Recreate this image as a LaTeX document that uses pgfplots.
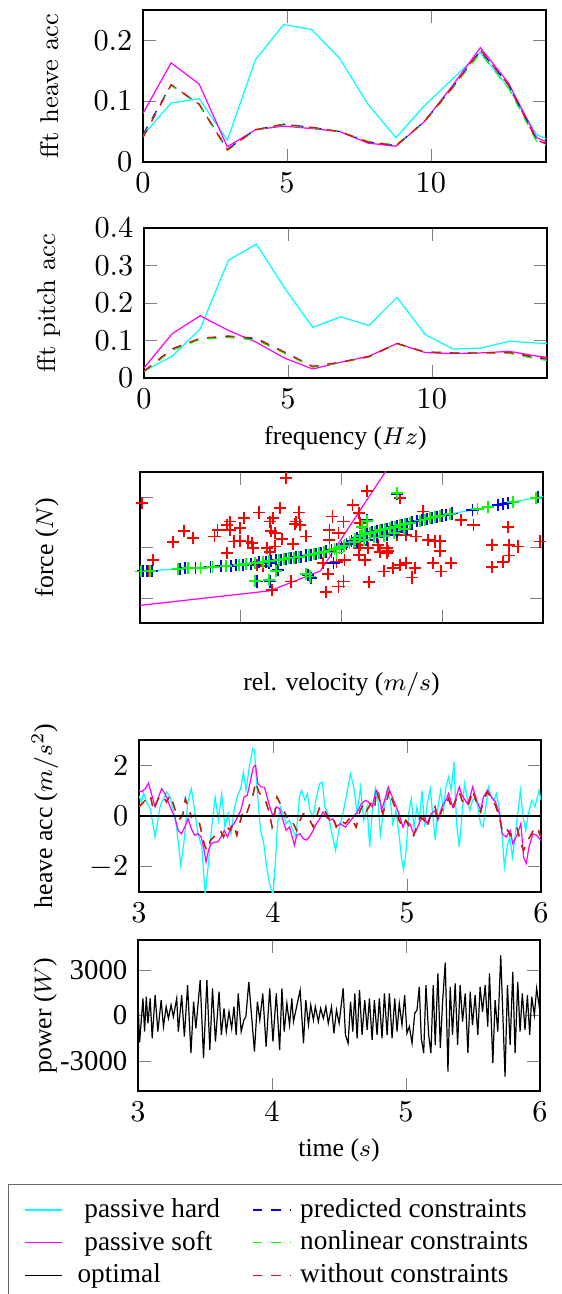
\documentclass[border=0pt]{standalone}
\usepackage{fontspec}
\newfontfamily\tnr{Liberation Serif}
\usepackage{pgfplots}
\pgfplotsset{compat=1.18}
\usepackage{pgfplotstable}

\definecolor{hardc}{rgb}{0,1,1}
\definecolor{softc}{rgb}{1,0,1}
\definecolor{nonlc}{rgb}{0,1,0}
\definecolor{predc}{rgb}{0,0,1}
\definecolor{woc}{rgb}{1,0,0}

% spectra, x = frequency (Hz)
\pgfplotstableread{
f      hard  soft  pred  nonl  wo
0.000  0.044 0.080 0.045 0.042 0.040
0.977  0.097 0.163 0.127 0.126 0.127
1.953  0.104 0.128 0.095 0.094 0.095
2.930  0.036 0.025 0.021 0.019 0.020
3.906  0.168 0.053 0.053 0.053 0.053
4.883  0.226 0.059 0.062 0.061 0.062
5.859  0.218 0.055 0.057 0.056 0.057
6.836  0.170 0.050 0.050 0.050 0.050
7.813  0.095 0.031 0.033 0.034 0.033
8.789  0.040 0.026 0.027 0.028 0.027
9.766  0.092 0.066 0.066 0.065 0.066
10.742 0.136 0.125 0.122 0.121 0.122
11.719 0.180 0.188 0.183 0.179 0.184
12.695 0.122 0.130 0.127 0.122 0.127
13.672 0.045 0.040 0.036 0.034 0.036
14.648 0.025 0.020 0.018 0.016 0.018
}\fftheave

\pgfplotstableread{
f      hard  soft  pred  nonl  wo
0.000  0.018 0.027 0.018 0.017 0.018
0.977  0.058 0.118 0.077 0.074 0.078
1.953  0.131 0.166 0.105 0.103 0.106
2.930  0.314 0.127 0.111 0.108 0.112
3.906  0.357 0.095 0.104 0.101 0.106
4.883  0.240 0.053 0.068 0.066 0.069
5.859  0.135 0.024 0.030 0.029 0.031
6.836  0.163 0.042 0.042 0.041 0.042
7.813  0.140 0.058 0.057 0.056 0.057
8.789  0.215 0.092 0.092 0.091 0.092
9.766  0.116 0.068 0.069 0.069 0.069
10.742 0.077 0.065 0.067 0.068 0.067
11.719 0.080 0.067 0.067 0.068 0.067
12.695 0.098 0.071 0.067 0.066 0.068
13.672 0.093 0.058 0.053 0.050 0.055
14.648 0.092 0.050 0.045 0.042 0.047
}\fftpitch

% damper force vs relative velocity (no units shown on the axes)
\pgfplotstableread{
v y
-2 -0.95
-1 -0.69
-0.5 -0.42
-0.25 -0.26
0 0
0.2 0.5
0.7 1.0
1.04 1.3
2 2.03
}\hardline

\pgfplotstableread{
v y
-2 -2.3
-0.71 -1.72
-0.21 -0.93
0.5 3.4
}\softline

\pgfplotstableread{
v y
-1.98 1.76
-1.87 -0.49
-1.92 -0.93
-1.67 0.21
-1.56 0.64
-1.47 0.37
-1.26 0.44
-1.23 0.70
-1.14 -0.23
-1.14 0.90
-1.11 1.03
-1.01 0.77
-0.97 1.17
-1.07 0.24
-1.01 0.26
-0.89 0.17
-0.88 -0.03
-0.82 1.39
-0.71 1.03
-0.68 1.17
-0.70 0.64
-0.66 0.57
-0.61 1.56
-0.59 0.34
-0.74 -0.03
-0.71 -0.19
-0.66 0.04
-0.55 2.75
-0.48 0.13
-0.46 0.93
-0.45 1.03
-0.41 0.90
-0.42 1.39
-0.35 0.44
-0.84 -0.69
-0.78 -0.75
-0.69 -1.68
-0.50 -1.35
-0.15 -1.77
-0.03 -1.55
0.02 -1.35
-0.13 -1.06
-0.18 -0.62
-0.12 0.70
-0.09 1.23
-0.12 0.30
-0.03 0.57
0.02 1.03
-0.10 -0.16
-0.05 -0.56
0.03 -0.49
0.11 1.70
0.17 1.36
0.18 0.97
0.25 2.25
0.17 -0.29
0.23 -0.49
0.26 -0.03
0.36 0.11
0.42 -0.95
0.27 -1.38
0.45 -0.03
0.46 -0.13
0.51 -0.82
0.58 -0.69
0.64 -0.62
0.70 -1.19
0.73 -0.82
0.58 1.96
0.55 0.50
0.64 0.50
0.74 0.44
0.81 1.43
0.86 0.30
0.91 -0.62
0.93 0.24
0.98 -0.13
0.99 -0.95
1.09 -0.62
0.98 0.26
1.19 1.10
1.31 0.90
1.49 0.11
1.65 0.83
1.66 0.11
1.75 0.04
1.66 -0.32
1.60 -0.56
1.49 -0.79
1.97 0.24
0.38 -0.19
0.45 -0.23
0.17 -0.03
0.18 0.11
-0.45 -0.42
-0.93 0.24
-1.11 0.70
}\redpts

\pgfplotstableread{
v y
-1.97 -0.94
-1.93 -0.93
-1.88 -0.92
-1.60 -0.85
-1.55 -0.83
-1.45 -0.81
-1.30 -0.77
-1.20 -0.74
-1.10 -0.72
-1.05 -0.70
-0.98 -0.68
-0.90 -0.64
-0.82 -0.59
-0.75 -0.56
-0.70 -0.53
-0.65 -0.50
-0.60 -0.48
-0.55 -0.45
-0.50 -0.42
-0.45 -0.39
-0.40 -0.36
-0.35 -0.32
-0.30 -0.29
-0.25 -0.26
-0.20 -0.21
-0.15 -0.16
-0.10 -0.10
-0.05 -0.05
0.00 0.00
0.05 0.13
0.10 0.25
0.15 0.38
0.20 0.50
0.25 0.55
0.30 0.60
0.35 0.65
0.40 0.70
0.45 0.75
0.50 0.80
0.55 0.85
0.60 0.90
0.65 0.95
0.70 1.00
0.75 1.04
0.80 1.09
0.85 1.13
0.90 1.18
0.95 1.22
1.00 1.27
1.04 1.30
1.10 1.35
1.30 1.50
1.55 1.69
1.60 1.72
1.65 1.76
1.95 1.99
0.15 0.24
0.25 0.30
0.35 0.42
0.45 0.50
0.55 0.62
0.65 0.75
-0.84 -1.35
-0.71 -1.35
-0.30 -1.22
-0.33 -1.09
-0.63 -0.89
0.55 2.12
0.25 1.10
-0.72 -0.62
-0.08 -0.60
}\bluepts

\pgfplotstableread{
v y
-1.99 -0.95
-1.90 -0.92
-1.62 -0.86
-1.52 -0.83
-1.40 -0.80
-1.28 -0.76
-1.15 -0.73
-1.02 -0.69
-0.95 -0.66
-0.86 -0.61
-0.78 -0.57
-0.72 -0.54
-0.62 -0.49
-0.57 -0.46
-0.52 -0.43
-0.47 -0.40
-0.42 -0.37
-0.32 -0.30
-0.27 -0.27
-0.22 -0.23
-0.17 -0.18
-0.12 -0.12
-0.07 -0.07
-0.02 -0.02
0.03 0.08
0.08 0.20
0.13 0.33
0.18 0.46
0.23 0.53
0.28 0.58
0.33 0.63
0.38 0.68
0.43 0.73
0.48 0.78
0.53 0.83
0.58 0.88
0.63 0.93
0.68 0.98
0.78 1.07
0.83 1.11
0.88 1.16
0.93 1.20
0.98 1.25
1.08 1.33
1.35 1.52
1.45 1.60
1.70 1.80
1.93 1.97
0.12 0.22
0.22 0.30
0.32 0.40
0.42 0.47
0.52 0.58
0.62 0.72
0.20 0.82
0.25 1.05
0.55 2.15
-0.86 -1.33
-0.72 -1.30
-0.31 -1.15
-0.35 -1.05
-0.65 -0.92
-0.05 -0.20
0.02 0.05
}\greenpts

% heave acceleration, t in s
\pgfplotstableread{
t a
3.000 0.80
3.017 0.55
3.034 0.90
3.059 0.50
3.084 0.30
3.120 -0.83
3.157 0.36
3.182 0.68
3.206 0.95
3.231 0.75
3.256 0.22
3.280 -0.43
3.312 -1.95
3.337 -0.96
3.366 0.62
3.391 1.08
3.415 0.22
3.440 -0.70
3.469 -1.22
3.494 -3.10
3.518 -1.88
3.543 -0.43
3.568 0.75
3.592 -0.17
3.617 0.88
3.641 -0.43
3.666 0.09
3.686 -0.70
3.710 0.22
3.735 0.82
3.759 1.08
3.779 1.74
3.799 1.01
3.823 1.93
3.848 2.66
3.862 2.59
3.882 1.01
3.907 -0.57
3.931 -1.09
3.956 -2.14
3.980 -2.80
4.000 -3.10
4.017 -1.88
4.034 -0.30
4.054 0.36
4.074 0.09
4.098 -0.30
4.123 -0.17
4.147 -0.57
4.172 -0.83
4.197 0.75
4.214 1.01
4.238 0.62
4.256 0.88
4.275 0.22
4.300 -0.04
4.324 0.75
4.349 1.28
4.369 1.34
4.386 0.36
4.410 0.09
4.435 -0.57
4.467 -1.36
4.491 -0.57
4.516 -0.04
4.541 0.62
4.578 1.67
4.603 1.14
4.628 0.09
4.653 1.14
4.677 -0.17
4.702 0.36
4.722 -1.22
4.739 0.09
4.764 1.08
4.784 0.55
4.801 -0.76
4.826 0.22
4.851 1.01
4.876 0.62
4.893 -0.30
4.918 0.22
4.943 -0.83
4.958 -1.62
4.975 -2.14
4.993 -1.36
5.012 0.09
5.032 0.68
5.052 -0.43
5.074 0.36
5.092 -0.17
5.112 1.01
5.132 -0.43
5.151 0.49
5.174 1.08
5.191 0.09
5.211 -0.96
5.231 0.36
5.251 1.01
5.273 0.22
5.290 1.14
5.310 1.54
5.330 1.01
5.350 2.13
5.370 -0.30
5.390 -1.22
5.409 -0.04
5.429 1.28
5.449 0.75
5.469 0.22
5.489 0.62
5.509 0.75
5.529 0.36
5.548 -0.30
5.568 -0.43
5.588 0.36
5.608 1.14
5.628 0.75
5.648 0.62
5.667 0.88
5.687 0.36
5.707 -0.57
5.727 -2.01
5.747 -1.22
5.767 -0.83
5.787 -1.62
5.806 -0.83
5.826 0.09
5.846 1.01
5.866 -0.04
5.886 -0.57
5.906 0.09
5.931 0.62
5.955 0.36
5.985 1.01
6.000 0.62
}\hardacc

\pgfplotstableread{
t a
3.000 1.01
3.020 0.95
3.047 1.08
3.071 1.30
3.096 0.82
3.120 0.36
3.145 0.75
3.170 1.08
3.194 0.88
3.219 0.55
3.243 0.22
3.268 -0.04
3.292 -0.57
3.317 -0.70
3.342 -0.43
3.366 -0.11
3.391 -0.50
3.415 -0.76
3.440 -0.70
3.464 -0.83
3.484 -1.29
3.501 -1.82
3.518 -1.36
3.538 -1.09
3.563 -1.03
3.587 -1.03
3.612 -0.83
3.636 -0.57
3.661 -0.83
3.686 -0.43
3.710 -0.30
3.735 -0.04
3.759 0.22
3.784 0.75
3.808 0.82
3.833 1.41
3.853 1.93
3.870 2.00
3.887 1.28
3.912 1.14
3.936 1.14
3.956 0.75
3.980 0.29
4.000 -0.01
4.025 0.36
4.049 0.29
4.074 -0.17
4.098 -0.57
4.123 -0.43
4.160 -1.15
4.177 -0.76
4.201 -0.70
4.226 -0.90
4.251 -0.95
4.275 -0.80
4.300 -0.57
4.324 -0.30
4.349 -0.11
4.373 0.16
4.398 -0.04
4.423 -0.17
4.447 -0.11
4.472 -0.43
4.500 -0.30
4.540 -0.44
4.580 -0.17
4.630 0.16
4.660 0.49
4.690 0.62
4.710 0.56
4.740 0.36
4.770 1.02
4.790 0.89
4.810 0.22
4.840 0.75
4.860 1.15
4.890 0.75
4.910 0.49
4.940 0.09
4.970 -0.44
4.990 -0.17
5.020 -0.30
5.050 -0.70
5.070 -0.57
5.100 -0.17
5.130 -0.04
5.150 -0.30
5.180 0.09
5.210 0.22
5.230 -0.17
5.260 0.36
5.290 0.62
5.310 0.89
5.340 0.36
5.360 0.62
5.390 1.15
5.410 0.82
5.450 0.49
5.470 0.75
5.490 1.15
5.520 0.62
5.550 0.22
5.570 0.75
5.600 1.02
5.630 0.75
5.660 0.56
5.690 0.09
5.710 -0.70
5.740 -0.83
5.770 -0.57
5.790 -1.10
5.820 -0.77
5.850 -0.30
5.870 -1.63
5.890 -1.87
5.910 -1.23
5.940 -0.70
5.970 -0.77
6.000 -0.97
}\softacc

\pgfplotstableread{
t a
3.000 0.36
3.034 0.55
3.084 0.82
3.108 0.22
3.133 0.55
3.157 0.82
3.182 0.75
3.206 0.55
3.231 0.82
3.256 0.49
3.280 0.03
3.305 -0.11
3.329 0.09
3.346 0.68
3.366 0.36
3.391 -0.04
3.415 0.03
3.440 -0.04
3.464 -0.57
3.489 -1.16
3.509 -1.36
3.533 -0.96
3.558 -0.83
3.582 -0.70
3.607 -0.57
3.631 -0.83
3.656 -0.43
3.681 -0.57
3.705 -0.30
3.730 -0.76
3.754 -0.24
3.779 0.22
3.803 0.09
3.828 0.49
3.853 0.88
3.870 1.34
3.894 0.95
3.919 0.75
3.943 0.62
3.968 0.22
3.993 -0.43
4.010 -0.01
4.030 0.75
4.054 0.49
4.079 0.22
4.103 -0.04
4.128 0.03
4.152 -0.30
4.177 -0.57
4.201 -0.17
4.226 0.09
4.251 0.03
4.275 -0.17
4.300 -0.43
4.324 -0.04
4.349 0.36
4.373 0.38
4.398 0.09
4.423 -0.17
4.447 -0.04
4.472 -0.43
4.500 -0.17
4.540 -0.30
4.580 -0.04
4.620 -0.44
4.650 0.22
4.680 0.49
4.700 0.22
4.730 0.49
4.760 0.29
4.770 1.02
4.800 0.56
4.820 0.09
4.850 0.62
4.870 1.02
4.890 0.62
4.910 0.36
4.940 -0.17
4.970 -0.44
4.990 -0.17
5.020 -0.44
5.050 -0.77
5.070 -0.44
5.100 -0.04
5.130 -0.17
5.150 -0.44
5.180 0.09
5.210 0.36
5.230 -0.17
5.260 0.22
5.290 0.49
5.310 0.69
5.340 0.22
5.360 0.56
5.390 0.95
5.410 0.62
5.450 0.36
5.470 0.62
5.490 1.02
5.520 0.49
5.550 0.16
5.570 0.62
5.600 0.95
5.630 0.69
5.660 0.42
5.690 -0.04
5.710 -0.57
5.740 -0.44
5.770 -0.77
5.790 -0.57
5.820 -0.44
5.850 -1.10
5.870 -1.36
5.900 -0.97
5.930 -0.70
5.950 -0.44
5.980 -0.57
6.000 -0.83
}\ctrlacc

% power of the optimal damper, W
\pgfplotstableread{
t p
3.000 912
3.012 -1780
3.037 1132
3.049 -1066
3.062 1242
3.074 -517
3.091 1132
3.106 -1506
3.128 1352
3.148 -1066
3.173 1022
3.190 -736
3.210 582
3.227 -187
3.247 692
3.264 -77
3.289 1132
3.301 -1066
3.326 1352
3.346 -1396
3.370 2011
3.395 -2495
3.415 912
3.432 -846
3.464 2341
3.489 -2824
3.514 2341
3.536 -2275
3.556 1791
3.578 -1725
3.605 1572
3.622 -1286
3.642 473
3.659 -1066
3.679 253
3.699 -846
3.716 582
3.733 -1286
3.748 1462
3.770 -1066
3.790 -297
3.805 -77
3.827 2231
3.869 -2385
3.891 912
3.909 -297
3.931 1462
3.956 -2055
3.983 1791
4.007 -1725
4.032 1462
4.057 -2275
4.074 1791
4.091 -1066
4.111 802
4.131 -626
4.148 1132
4.160 -407
4.210 1681
4.235 -1835
4.252 1022
4.272 -626
4.289 692
4.309 -297
4.323 582
4.346 -407
4.363 473
4.383 -187
4.402 582
4.420 -517
4.444 582
4.462 -1176
4.481 363
4.501 -517
4.531 1791
4.548 -1286
4.568 -1835
4.586 912
4.603 -1066
4.618 1462
4.635 -1506
4.653 1681
4.672 -1286
4.692 1022
4.710 -956
4.727 1132
4.747 -1616
4.764 1022
4.784 -1286
4.801 1132
4.821 -1506
4.839 1462
4.859 -1286
4.876 1462
4.896 -1506
4.916 1132
4.933 -1066
4.950 802
4.970 -626
4.990 1352
5.007 -1176
5.025 -736
5.045 -1835
5.065 143
5.082 363
5.099 1901
5.114 -1506
5.132 -2495
5.149 2011
5.169 -1286
5.186 -2495
5.203 2011
5.218 -1945
5.238 2781
5.256 -2165
5.273 912
5.293 3506
5.313 -3714
5.330 1901
5.347 -1286
5.367 2121
5.385 -1945
5.404 2011
5.422 -407
5.442 1462
5.462 -2495
5.479 1572
5.496 -626
5.516 1352
5.536 -1286
5.553 1901
5.571 253
5.591 2011
5.610 -736
5.623 2781
5.648 -3154
5.665 1022
5.685 -1066
5.707 3989
5.739 -4044
5.757 2011
5.777 -1945
5.797 2891
5.814 -2495
5.834 2231
5.851 -1066
5.868 1462
5.888 -956
5.906 1352
5.923 -1286
5.938 1242
5.958 33
5.975 1791
6.000 253
}\power

\begin{document}
\begin{tikzpicture}
\pgfplotsset{
  every axis/.append style={
    scale only axis, anchor=north west,
    tick label style={font=\fontsize{10}{12}\selectfont},
    label style={font=\tnr\fontsize{8.5}{10}\selectfont},
    xlabel style={anchor=center},
    ylabel style={anchor=center},
  },
  cross/.style={only marks, mark=+, mark size=2pt, mark options={line width=0.6pt}},
}

% fft of heave acceleration
\begin{axis}[at={(47.19pt,-3.3pt)}, width=132.99pt, height=50.16pt,
  xmin=0, xmax=14, ymin=0, ymax=0.25,
  xtick={0,5,10}, ytick={0,0.1,0.2},
  ylabel={\normalfont fft heave acc},
  ylabel style={at={(axis description cs:-0.231,0.5)}}]
\addplot[hardc] table[x=f, y=hard] {\fftheave};
\addplot[softc] table[x=f, y=soft] {\fftheave};
\addplot[predc, dashed] table[x=f, y=pred] {\fftheave};
\addplot[nonlc, dashed] table[x=f, y=nonl] {\fftheave};
\addplot[woc, dashed] table[x=f, y=wo] {\fftheave};
\end{axis}

% fft of pitch acceleration
\begin{axis}[at={(47.52pt,-75.24pt)}, width=132.99pt, height=49.5pt,
  xmin=0, xmax=14, ymin=0, ymax=0.4,
  xtick={0,5,10}, ytick={0,0.1,0.2,0.3,0.4},
  ylabel={\normalfont fft pitch acc},
  ylabel style={at={(axis description cs:-0.237,0.5)}},
  xlabel={frequency ($Hz$)},
  xlabel style={at={(axis description cs:0.5,-0.40)}}]
\addplot[hardc] table[x=f, y=hard] {\fftpitch};
\addplot[softc] table[x=f, y=soft] {\fftpitch};
\addplot[predc, dashed] table[x=f, y=pred] {\fftpitch};
\addplot[nonlc, dashed] table[x=f, y=nonl] {\fftpitch};
\addplot[woc, dashed] table[x=f, y=wo] {\fftpitch};
\end{axis}

% force vs relative velocity
\begin{axis}[at={(46.2pt,-155.76pt)}, width=132.99pt, height=49.83pt,
  xmin=-2, xmax=2, ymin=-3, ymax=3,
  xtick={-1,0,1}, ytick={-2,0,2},
  xticklabels={}, yticklabels={},
  ylabel={force ($N$)},
  ylabel style={at={(axis description cs:-0.231,0.5)}},
  xlabel={rel. velocity ($m/s$)},
  xlabel style={at={(axis description cs:0.5,-0.41)}}]
\addplot[hardc] table[x=v, y=y] {\hardline};
\addplot[softc] table[x=v, y=y] {\softline};
\addplot[woc, cross] table[x=v, y=y] {\redpts};
\addplot[predc, cross] table[x=v, y=y] {\bluepts};
\addplot[nonlc, cross] table[x=v, y=y] {\greenpts};
\end{axis}

% heave acceleration in time
\begin{axis}[at={(45.87pt,-244.2pt)}, width=132.66pt, height=50.16pt,
  xmin=3, xmax=6, ymin=-3, ymax=3,
  xtick={3,4,5,6}, ytick={-2,0,2},
  ylabel={heave acc ($m/s^2$)},
  ylabel style={at={(axis description cs:-0.234,0.5)}}]
\addplot[hardc] table[x=t, y=a] {\hardacc};
\addplot[softc] table[x=t, y=a] {\softacc};
\addplot[predc, dashed] table[x=t, y=a] {\ctrlacc};
\addplot[nonlc, dashed] table[x=t, y=a] {\ctrlacc};
\addplot[woc, dashed] table[x=t, y=a] {\ctrlacc};
\addplot[black] coordinates {(3,0) (6,0)};
\end{axis}

% power
\begin{axis}[at={(45.54pt,-310.2pt)}, width=132.66pt, height=49.83pt,
  xmin=3, xmax=6, ymin=-5000, ymax=5000,
  xtick={3,4,5,6}, ytick={-3000,0,3000},
  yticklabels={-3000,0,3000},
  yticklabel style={font=\tnr\fontsize{9.5}{11}\selectfont},
  ylabel={power ($W$)},
  ylabel style={at={(axis description cs:-0.231,0.5)}},
  xlabel={time ($s$)},
  xlabel style={at={(axis description cs:0.5,-0.39)}},
  legend columns=2, legend cell align=left,
  legend image code/.code={\draw[#1] (0pt,0pt) -- (12.5pt,0pt);},
  legend style={at={(axis description cs:-0.323,-0.616)}, anchor=north west,
    draw=black!60, font=\tnr\fontsize{9}{10}\selectfont,
    inner xsep=5pt, inner ysep=3pt, nodes={inner sep=1.5pt},
    /tikz/every odd column/.append style={column sep=3.3pt},
    /tikz/every even column/.append style={column sep=9.3pt}}]
\addplot[black, forget plot] table[x=t, y=p] {\power};
\addlegendimage{hardc}\addlegendentry{\ passive hard}
\addlegendimage{predc, dashed}\addlegendentry{\hspace*{-2pt}predicted constraints}
\addlegendimage{softc}\addlegendentry{\ passive soft}
\addlegendimage{nonlc, dashed}\addlegendentry{\hspace*{-2pt}nonlinear constraints\hspace*{14pt}}
\addlegendimage{black}\addlegendentry{optimal}
\addlegendimage{woc, dashed}\addlegendentry{\hspace*{-2pt}without constraints}
\end{axis}

\pgfresetboundingbox
\path[use as bounding box] (0pt,0pt) rectangle (185.13pt,-427.02pt);
\end{tikzpicture}
\end{document}
